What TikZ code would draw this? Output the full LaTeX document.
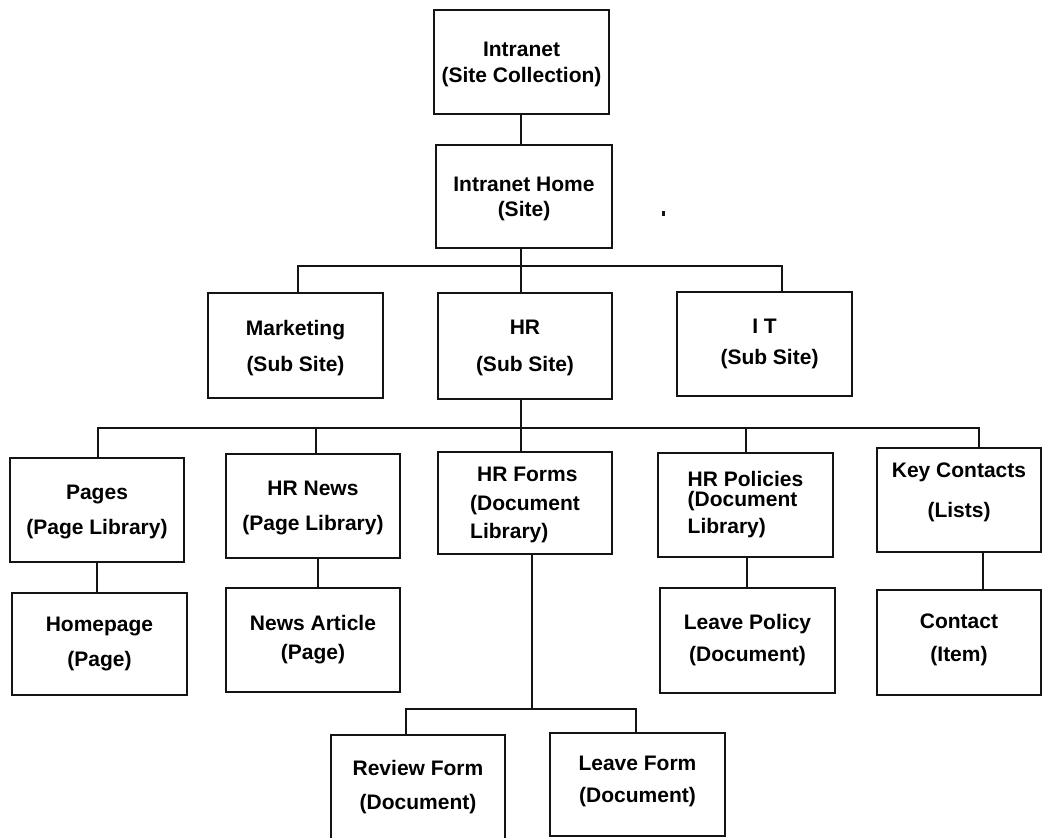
\documentclass[tikz,border=0pt]{standalone}
\usepackage{fontspec}
\setmainfont{Liberation Sans}
\usetikzlibrary{positioning, calc}
\definecolor{mydark}{RGB}{20,20,20}
\tikzset{
  box/.style={rectangle, draw=mydark, fill=white,
    minimum width=175pt, minimum height=104pt, inner sep=0pt,
    align=center, font=\fontsize{21}{25}\selectfont\bfseries,
    line width=2pt},
  leftbox/.style={box, align=left},
  line/.style={line width=2pt, color=mydark}
}

\begin{document}
\begin{tikzpicture}[x=1pt, y=-1pt]
  \useasboundingbox (0,0) rectangle (1045,838);

  % Site collection and home site
  \node[box, text depth=-4pt] (site) at (521.5,62) {Intranet\\[1pt](Site Collection)};
  \node[box, minimum width=176pt, minimum height=103pt, text depth=-4pt] (home) at (524,196.5) {Intranet Home\\(Site)};

  % Sub sites
  \node[box, minimum height=105pt, text depth=-5pt] (mkt) at (295.5,345.5) {Marketing\\[11pt](Sub Site)};
  \node[box, minimum width=174pt, minimum height=106pt, text depth=-5pt] (hr) at (525,346) {HR\\[12pt](Sub Site)};
  \node[box] (it) at (764.5,344) {I T\\[6pt]\hspace*{10pt}(Sub Site)};

  % Libraries and lists
  \node[box, minimum width=174pt, text depth=-4pt] (pages) at (97,510) {Pages\\[10pt](Page Library)};
  \node[box, minimum width=174pt, text depth=0pt] (news) at (313,506) {HR News\\[10pt](Page Library)};
  \node[leftbox, minimum width=174pt, minimum height=102pt, text depth=-4pt] (forms) at (525,503)
    {\hspace*{7pt}HR Forms\\[4pt](Document\\[3pt]Library)};
  \node[leftbox] (policies) at (745.5,505)
    {HR Policies\\[-5pt](Document\\[2pt]Library)};
  \node[box, minimum width=164pt, text depth=19pt] (contacts) at (959,500) {Key Contacts\\[15pt](Lists)};

  % Items
  \node[box, minimum height=102pt] (homepage) at (99.5,644) {Homepage\\[10pt](Page)};
  \node[box, minimum width=174pt] (article) at (313,640) {News Article\\[4pt](Page)};
  \node[box, minimum height=105pt] (leavepol) at (747.5,640.5) {Leave Policy\\[7pt](Document)};
  \node[box, minimum width=164pt, minimum height=105pt, text depth=10pt] (contact) at (959,642.5) {Contact\\[8pt](Item)};

  % Documents
  \node[box, minimum width=174pt, minimum height=105pt] (review) at (418,787.5) {Review Form\\[9pt](Document)};
  \node[box, minimum height=103pt, text depth=11pt] (leaveform) at (637.5,784.5) {Leave Form\\[7pt](Document)};

  % Junctions
  \coordinate (j1) at (521,266);
  \coordinate (j2) at (521,428);
  \coordinate (j3) at (532,709);

  % Connections
  \draw[line] ([xshift=-0.5pt]site.south) -- ([xshift=-0.5pt]site.south |- home.north);
  \draw[line] ([xshift=-3pt]home.south) -- (j1);
  \draw[line] (j1) -| ([xshift=2.5pt]mkt.north);
  \draw[line] (j1) -- (j1 |- hr.north);
  \draw[line] (j1) -| ([xshift=17.5pt]it.north);

  \draw[line] ([xshift=-4pt]hr.south) -- (j2);
  \draw[line] (j2) -| ([xshift=1pt]pages.north);
  \draw[line] (j2) -| ([xshift=3pt]news.north);
  \draw[line] (j2) -- (j2 |- forms.north);
  \draw[line] (j2) -| ([xshift=0.5pt]policies.north);
  \draw[line] (j2) -| ([xshift=20pt]contacts.north);

  \draw[line] (pages.south) -- (pages.south |- homepage.north);
  \draw[line] ([xshift=5pt]news.south) -- ([xshift=5pt]news.south |- article.north);
  \draw[line] ([xshift=1.5pt]policies.south) -- ([xshift=1.5pt]policies.south |- leavepol.north);
  \draw[line] ([xshift=24pt]contacts.south) -- ([xshift=24pt]contacts.south |- contact.north);

  \draw[line] ([xshift=7pt]forms.south) -- (j3);
  \draw[line] (j3) -| ([xshift=-12pt]review.north);
  \draw[line] (j3) -| ([xshift=-1.5pt]leaveform.north);

  % stray mark
  \fill[mydark] (662,211) rectangle (664.5,216);
\end{tikzpicture}
\end{document}
